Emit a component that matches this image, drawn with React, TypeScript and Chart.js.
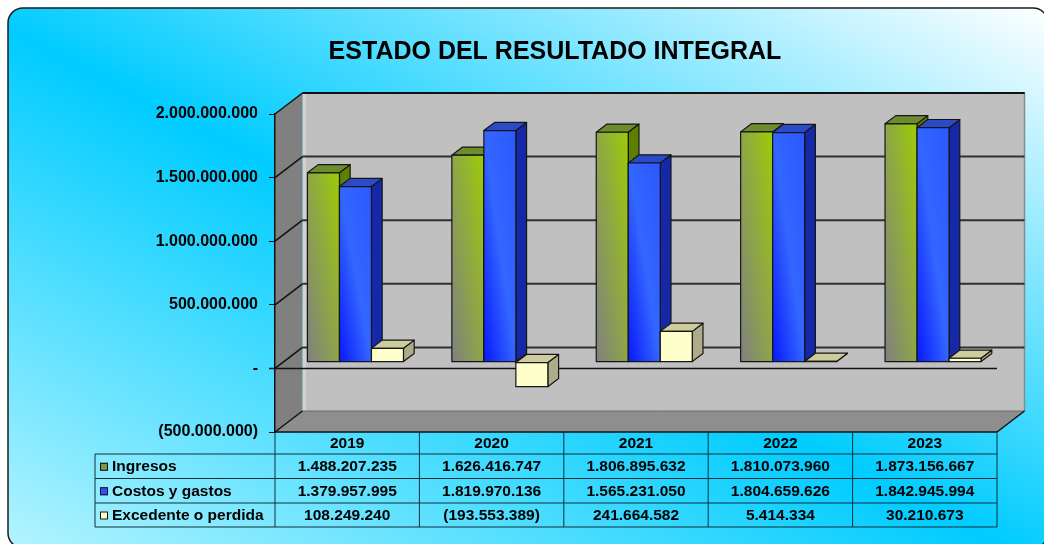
import React, { useEffect, useRef } from 'react';
import { Chart, registerables } from 'chart.js';

Chart.register(...registerables);

// ---------- data ----------
const categories = ['2019', '2020', '2021', '2022', '2023'];
const ingresos = [1488207235, 1626416747, 1806895632, 1810073960, 1873156667];
const costos = [1379957995, 1819970136, 1565231050, 1804659626, 1842945994];
const excedente = [108249240, -193553389, 241664582, 5414334, 30210673];
const seriesNames = ['Ingresos', 'Costos y gastos', 'Excedente o perdida'];
const yMin = -500000000;
const yMax = 2000000000;
const yStep = 500000000;
const chartTitle = 'ESTADO DEL RESULTADO INTEGRAL';

// ---------- styles ----------
const FONT = "'Liberation Sans', Arial, Helvetica, sans-serif";
const WALL_DX = 27.5;
const WALL_DY = -21;
const BAR_FRONT = 0.3; // fraction of wall depth where bar front sits
const BAR_DEPTH = 0.39; // fraction of wall depth occupied by bar

const faceStyles = [
  { front: ['#808080', '#8ea646', '#9ccc06'], side: '#5f7f00', top: '#6d8c2c', key: '#7f9648' },
  { front: ['#0818ff', '#3366ff', '#2c58ff'], side: '#1428a8', top: '#2a4ac8', key: '#2f52ff' },
  { front: ['#ffffcc', '#ffffcc', '#ffffcc'], side: '#acac88', top: '#cccc9c', key: '#ffffc8' },
];

function fmt(n: number): string {
  if (n === 0) return '-';
  const s = Math.round(Math.abs(n)).toString().replace(/\B(?=(\d{3})+(?!\d))/g, '.');
  return n < 0 ? `(${s})` : s;
}

function roundRectPath(ctx: CanvasRenderingContext2D, x: number, y: number, w: number, h: number, r: number) {
  ctx.beginPath();
  ctx.moveTo(x + r, y);
  ctx.lineTo(x + w - r, y);
  ctx.arcTo(x + w, y, x + w, y + r, r);
  ctx.lineTo(x + w, y + h - r);
  ctx.arcTo(x + w, y + h, x + w - r, y + h, r);
  ctx.lineTo(x + r, y + h);
  ctx.arcTo(x, y + h, x, y + h - r, r);
  ctx.lineTo(x, y + r);
  ctx.arcTo(x, y, x + r, y, r);
  ctx.closePath();
}

function line(ctx: CanvasRenderingContext2D, x1: number, y1: number, x2: number, y2: number, color: string, w: number) {
  ctx.beginPath();
  ctx.moveTo(x1, y1);
  ctx.lineTo(x2, y2);
  ctx.strokeStyle = color;
  ctx.lineWidth = w;
  ctx.stroke();
}

function poly(ctx: CanvasRenderingContext2D, pts: number[][], fill: string | CanvasGradient, stroke?: string, w = 1) {
  ctx.beginPath();
  ctx.moveTo(pts[0][0], pts[0][1]);
  for (let i = 1; i < pts.length; i++) ctx.lineTo(pts[i][0], pts[i][1]);
  ctx.closePath();
  ctx.fillStyle = fill;
  ctx.fill();
  if (stroke) {
    ctx.strokeStyle = stroke;
    ctx.lineWidth = w;
    ctx.stroke();
  }
}

const threeDPlugin = {
  id: 'threeD',
  beforeDraw(chart: any) {
    const { ctx, chartArea: ca, scales } = chart;
    const y = scales.y;
    ctx.save();
    // panel background
    const px = 8, py = 8, pw = 1040, ph = 540, r = 15;
    ctx.save();
    roundRectPath(ctx, px, py, pw, ph, r);
    ctx.clip();
    ctx.translate(px, py);
    ctx.scale(pw, ph);
    const g = ctx.createLinearGradient(0, 1, 1, 0);
    g.addColorStop(0, '#b4f4ff');
    g.addColorStop(0.48, '#00ccff');
    g.addColorStop(1, '#ffffff');
    ctx.fillStyle = g;
    ctx.fillRect(0, 0, 1, 1);
    ctx.restore();
    roundRectPath(ctx, px, py, pw, ph, r);
    ctx.strokeStyle = '#1e1e1e';
    ctx.lineWidth = 1.5;
    ctx.stroke();

    // title
    ctx.fillStyle = '#000';
    ctx.font = `bold 25px ${FONT}`;
    ctx.textAlign = 'center';
    ctx.textBaseline = 'middle';
    ctx.fillText(chartTitle, 555, 52);

    // walls
    const L = ca.left, R = ca.right, T = ca.top, B = ca.bottom;
    const dx = WALL_DX, dy = WALL_DY;
    poly(ctx, [[L, T], [L + dx, T + dy], [L + dx, B + dy], [L, B]], '#808080');
    poly(ctx, [[L + dx, T + dy], [R + dx, T + dy], [R + dx, B + dy], [L + dx, B + dy]], '#c0c0c0');
    poly(ctx, [[L, B], [L + dx, B + dy], [R + dx, B + dy], [R, B]], '#8e8e8e');
    line(ctx, L + dx + 2, T + dy, L + dx + 2, B + dy, '#d2d2d2', 3);
    line(ctx, R + dx, T + dy, R + dx, B + dy, '#8a8a8a', 1.5);

    // gridlines on walls
    for (let v = yMin; v <= yMax; v += yStep) {
      const yf = y.getPixelForValue(v);
      const yb = yf + dy;
      if (v === yMin) {
        line(ctx, L + dx, yb, R + dx, yb, '#6a6a6a', 1);
      } else {
        line(ctx, L + dx, yb, R + dx, yb, '#303030', 2);
      }
      line(ctx, L, yf, L + dx, yb, '#111', 1.5);
    }
    // outline edges
    line(ctx, L + dx, T + dy, R + dx, T + dy, '#111', 2);
    line(ctx, L, B, R, B, '#111', 1.5);
    line(ctx, R, B, R + dx, B + dy, '#111', 1.5);
    ctx.restore();
  },
  beforeDatasetsDraw(chart: any) {
    const { ctx, chartArea: ca, scales } = chart;
    const y = scales.y;
    ctx.save();
    // category axis (zero line) along the front
    const y0 = y.getPixelForValue(0);
    line(ctx, ca.left - 6, y0, ca.right, y0, '#111', 1.5);

    const fdx = WALL_DX * BAR_FRONT, fdy = WALL_DY * BAR_FRONT;
    const bdx = WALL_DX * BAR_DEPTH, bdy = WALL_DY * BAR_DEPTH;
    const n = chart.data.labels.length;
    ctx.lineJoin = 'round';
    for (let j = 0; j < n; j++) {
      for (let i = 0; i < chart.data.datasets.length; i++) {
        const meta = chart.getDatasetMeta(i);
        const el = meta.data[j];
        if (!el) continue;
        const p = el.getProps(['x', 'y', 'base', 'width'], true);
        const st = faceStyles[i];
        const xL = p.x - p.width / 2 + fdx;
        const xR = p.x + p.width / 2 + fdx;
        const top = Math.min(p.y, p.base) + fdy;
        const bot = Math.max(p.y, p.base) + fdy;
        const stroke = '#161616';
        // side
        poly(ctx, [[xR, top], [xR + bdx, top + bdy], [xR + bdx, bot + bdy], [xR, bot]], st.side, stroke, 1.2);
        // top
        poly(ctx, [[xL, top], [xL + bdx, top + bdy], [xR + bdx, top + bdy], [xR, top]], st.top, stroke, 1.2);
        // front with gradient (bottom-left to top-right, box relative)
        ctx.save();
        ctx.beginPath();
        ctx.rect(xL, top, xR - xL, Math.max(bot - top, 0.5));
        ctx.clip();
        ctx.translate(xL, top);
        ctx.scale(xR - xL, Math.max(bot - top, 0.5));
        const gr = ctx.createLinearGradient(0, 1, 1, 0);
        gr.addColorStop(0, st.front[0]);
        gr.addColorStop(0.5, st.front[1]);
        gr.addColorStop(1, st.front[2]);
        ctx.fillStyle = gr;
        ctx.fillRect(0, 0, 1, 1);
        ctx.restore();
        ctx.strokeStyle = stroke;
        ctx.lineWidth = 1.2;
        ctx.strokeRect(xL, top, xR - xL, bot - top);
      }
    }
    ctx.restore();
    return false;
  },
  afterDraw(chart: any) {
    const { ctx, chartArea: ca, scales } = chart;
    const x = scales.x;
    ctx.save();
    const n = categories.length;
    const half = (x.getPixelForValue(1) - x.getPixelForValue(0)) / 2;
    const xs: number[] = [];
    for (let k = 0; k < n; k++) xs.push(x.getPixelForValue(k) - half);
    xs.push(x.getPixelForValue(n - 1) + half);
    const B = ca.bottom;
    const rows = [B, B + 22, B + 46.5, B + 71, B + 95];
    const legLeft = 95;
    const lc = '#10303a';
    // horizontal lines
    for (let r = 1; r < rows.length; r++) line(ctx, legLeft, rows[r], xs[n], rows[r], lc, 1);
    // vertical lines
    line(ctx, legLeft, rows[1], legLeft, rows[4], lc, 1);
    for (let k = 0; k <= n; k++) line(ctx, xs[k], B, xs[k], rows[4], lc, 1);

    ctx.fillStyle = '#000';
    ctx.textBaseline = 'middle';
    ctx.textAlign = 'center';
    ctx.font = `bold 15.5px ${FONT}`;
    for (let k = 0; k < n; k++) {
      ctx.fillText(categories[k], (xs[k] + xs[k + 1]) / 2, (rows[0] + rows[1]) / 2 + 1);
    }
    const series = [ingresos, costos, excedente];
    for (let s = 0; s < series.length; s++) {
      const cy = (rows[s + 1] + rows[s + 2]) / 2 + 0.5;
      ctx.textAlign = 'center';
      ctx.fillStyle = '#000';
      for (let k = 0; k < n; k++) {
        ctx.fillText(fmt(series[s][k]), (xs[k] + xs[k + 1]) / 2, cy);
      }
      // legend key
      ctx.fillStyle = faceStyles[s].key;
      ctx.fillRect(100, cy - 4, 8, 8);
      ctx.strokeStyle = '#111';
      ctx.lineWidth = 1;
      ctx.strokeRect(100.5, cy - 3.5, 7, 7);
      ctx.fillStyle = '#000';
      ctx.textAlign = 'left';
      ctx.fillText(seriesNames[s], 112, cy);
    }
    ctx.restore();
  },
};

export default function App() {
  const ref = useRef<HTMLCanvasElement | null>(null);
  useEffect(() => {
    if (!ref.current) return;
    const chart = new Chart(ref.current, {
      type: 'bar',
      data: {
        labels: categories,
        datasets: [
          { label: seriesNames[0], data: ingresos, backgroundColor: '#99cc00' },
          { label: seriesNames[1], data: costos, backgroundColor: '#3366ff' },
          { label: seriesNames[2], data: excedente, backgroundColor: '#ffffcc' },
        ],
      },
      options: {
        responsive: false,
        animation: false,
        devicePixelRatio: 1,
        layout: { padding: { left: 125, right: 47, top: 114, bottom: 112 } },
        datasets: { bar: { categoryPercentage: 0.665, barPercentage: 1 } },
        plugins: {
          legend: { display: false },
          tooltip: { enabled: false },
          title: { display: false },
        },
        scales: {
          x: { display: false, offset: true },
          y: {
            min: yMin,
            max: yMax,
            afterFit: (s: any) => {
              s.width = 150;
            },
            ticks: {
              stepSize: yStep,
              callback: (v: any) => fmt(Number(v)),
              color: '#000',
              font: { family: FONT, size: 16, weight: 'bold' },
              padding: 11,
            },
            grid: { drawOnChartArea: false, drawTicks: true, tickLength: 6, color: '#111', lineWidth: 1 },
            border: { display: true, color: '#111', width: 1.5 },
          },
        },
      },
      plugins: [threeDPlugin],
    } as any);
    return () => chart.destroy();
  }, []);
  return (
    <div style={{ position: 'fixed', left: 0, top: 0, width: 1044, height: 544, background: '#fff', overflow: 'hidden' }}>
      <canvas ref={ref} width={1044} height={544} style={{ display: 'block', width: 1044, height: 544 }} />
    </div>
  );
}
